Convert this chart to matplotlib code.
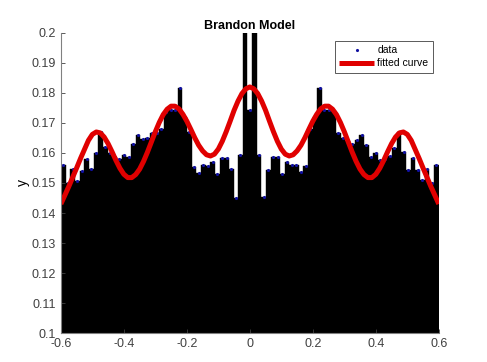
import numpy as np
import matplotlib
matplotlib.use('Agg')
import matplotlib.pyplot as plt

plt.rcParams['font.family'] = ['Liberation Sans', 'DejaVu Sans']

# 数据：81个柱（-0.6 到 0.6），高度从图中读取
x_min, x_max = -0.6, 0.6
n_bins = 81
data_y = [
    0.156, 0.150, 0.1547, 0.1505, 0.154, 0.158, 0.1545, 0.160, 0.167, 0.162,
    0.160, 0.1588, 0.158, 0.1593, 0.1585, 0.163, 0.166, 0.1645, 0.165, 0.1666,
    0.1666, 0.168, 0.1738, 0.1743, 0.1743, 0.1816, 0.172, 0.167, 0.1554, 0.1532,
    0.156, 0.1557, 0.1571, 0.153, 0.1582, 0.1582, 0.1546, 0.1449, 0.1593, 0.215,
    0.1743,
    0.215, 0.1593, 0.1454, 0.1543, 0.1586, 0.1586, 0.153, 0.1569, 0.156, 0.156,
    0.1535, 0.1557, 0.168, 0.172, 0.1816, 0.1743, 0.1743, 0.1740, 0.1668, 0.165,
    0.164, 0.163, 0.1643, 0.166, 0.1627, 0.1588, 0.160, 0.1577, 0.158, 0.159,
    0.1616, 0.167, 0.1604, 0.1543, 0.1582, 0.1543, 0.151, 0.1547, 0.150, 0.156,
]

# 拟合曲线（0 到 0.6，每0.0125取一点，左右对称）
curve_half = [0.182, 0.1814, 0.1798, 0.1773, 0.1742, 0.1706, 0.1671, 0.1639,
              0.1613, 0.1596, 0.1590, 0.1594, 0.1607, 0.1626, 0.1651, 0.1679,
              0.1706, 0.1729, 0.1747, 0.1756, 0.1756, 0.1746, 0.1728, 0.1702,
              0.1671, 0.1637, 0.1603, 0.1572, 0.1546, 0.1528, 0.1518, 0.1518,
              0.1529, 0.1549, 0.1575, 0.1604, 0.1631, 0.1653, 0.1667, 0.1670,
              0.1662, 0.1642, 0.1612, 0.1582, 0.1550, 0.1519, 0.1488, 0.1459,
              0.1430]
curve_y = curve_half[::-1] + curve_half[1:]
curve_x = np.linspace(x_min, x_max, len(curve_y))

x_ticks = [-0.6, -0.4, -0.2, 0, 0.2, 0.4, 0.6]
x_labels = ['-0.6', '-0.4', '-0.2', '0', '0.2', '0.4', '0.6']
y_ticks = [0.1, 0.11, 0.12, 0.13, 0.14, 0.15, 0.16, 0.17, 0.18, 0.19, 0.2]
y_labels = ['0.1', '0.11', '0.12', '0.13', '0.14', '0.15', '0.16', '0.17',
            '0.18', '0.19', '0.2']

bw = (x_max - x_min) / n_bins
data_x = x_min + bw / 2 + bw * np.arange(n_bins)

fig = plt.figure(figsize=(4.87, 3.62), dpi=100)
ax = fig.add_axes([0.125, 0.080, 0.776, 0.829])

ax.bar(data_x, data_y, width=bw, color='black', edgecolor='black', linewidth=0.3)
ax.plot(data_x, data_y, '.', color='#1010a0', markersize=2.5, label='data')
ax.plot(curve_x, curve_y, '-', color='#e00000', linewidth=3.6, label='fitted curve',
        solid_capstyle='butt', solid_joinstyle='round')

ax.set_xlim(x_min, x_max)
ax.set_ylim(0.1, 0.2)
ax.set_xticks(x_ticks)
ax.set_xticklabels(x_labels)
ax.set_yticks(y_ticks)
ax.set_yticklabels(y_labels)
ax.tick_params(direction='in', length=3, labelsize=9, colors='#404040', width=0.6)
for s in ['top', 'right']:
    ax.spines[s].set_visible(False)
for s in ['left', 'bottom']:
    ax.spines[s].set_color('#808080')
    ax.spines[s].set_linewidth(0.8)

ax.set_title('Brandon Model', fontsize=9, fontweight='bold', pad=3)
ax.set_ylabel('y', fontsize=10, labelpad=1)

leg = ax.legend(loc='upper right', bbox_to_anchor=(0.984, 0.973), borderaxespad=0,
                fontsize=7.5, frameon=True, fancybox=False, handlelength=3.4,
                borderpad=0.4, labelspacing=0.3, handletextpad=0.3)
leg.get_frame().set_edgecolor('#303030')
leg.get_frame().set_linewidth(0.7)

fig.savefig('out.png', dpi=100)
